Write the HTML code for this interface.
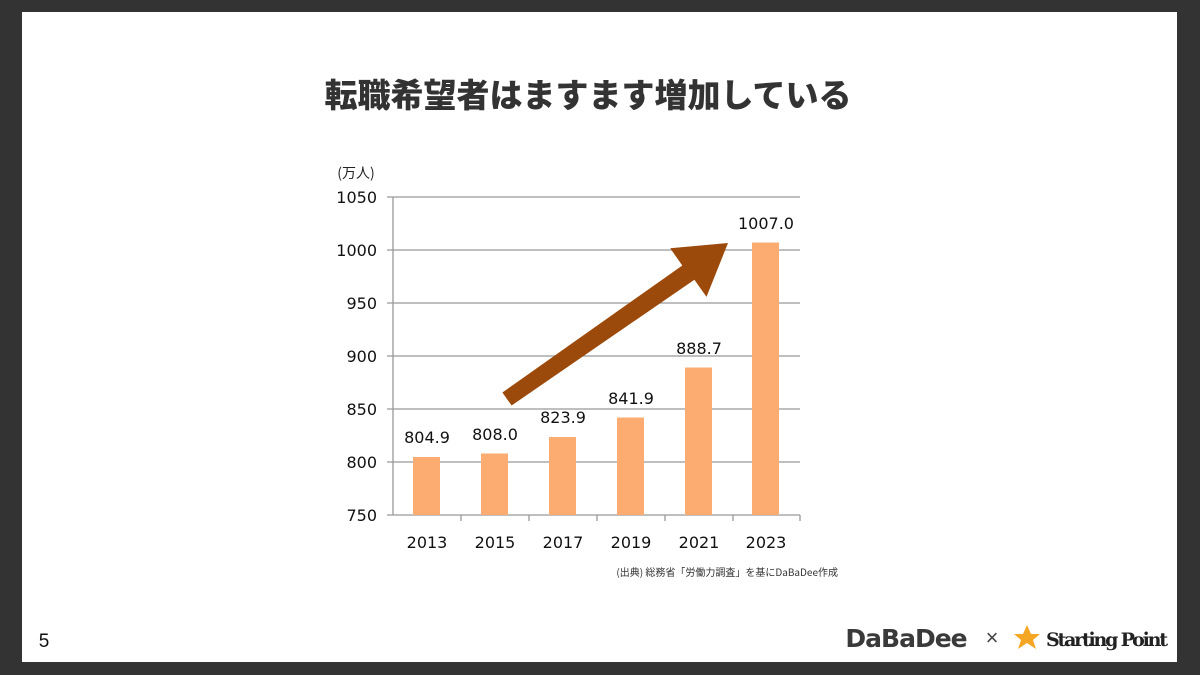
<!DOCTYPE html>
<html><head><meta charset="utf-8"><style>
body{margin:0;width:1200px;height:675px;background:#333;overflow:hidden;font-family:"Liberation Sans","Noto Sans CJK JP",sans-serif}
.slide{position:absolute;left:22px;top:12px;width:1155px;height:650px;background:#fff}
</style></head><body>
<div class="slide"></div>
<svg width="1200" height="675" style="position:absolute;left:0;top:0" font-family="Liberation Sans, Noto Sans CJK JP, sans-serif">
<text x="588" y="107" text-anchor="middle" font-size="33" font-weight="900" fill="#333" font-family="Noto Sans CJK JP, sans-serif">転職希望者はますます増加している</text>
<text x="356" y="178" text-anchor="middle" font-size="14" fill="#222" font-family="Noto Sans CJK JP, sans-serif">(万人)</text>
<g stroke="#999" stroke-width="1.3">
<line x1="387" y1="197" x2="800" y2="197"/><line x1="387" y1="250" x2="800" y2="250"/><line x1="387" y1="303" x2="800" y2="303"/><line x1="387" y1="356" x2="800" y2="356"/><line x1="387" y1="409" x2="800" y2="409"/><line x1="387" y1="462" x2="800" y2="462"/><line x1="387" y1="515" x2="800" y2="515"/>
<line x1="393" y1="197" x2="393" y2="515"/>
<line x1="461" y1="515" x2="461" y2="521"/><line x1="529" y1="515" x2="529" y2="521"/><line x1="597" y1="515" x2="597" y2="521"/><line x1="665" y1="515" x2="665" y2="521"/><line x1="733" y1="515" x2="733" y2="521"/><line x1="800" y1="515" x2="800" y2="521"/>
</g>
<g font-size="16" fill="#111" text-anchor="end" font-family="DejaVu Sans, sans-serif">
<text x="377" y="203">1050</text><text x="377" y="256">1000</text><text x="377" y="309">950</text><text x="377" y="362">900</text><text x="377" y="415">850</text><text x="377" y="468">800</text><text x="377" y="521">750</text>
</g>
<g fill="#FCAC71">
<rect x="413" y="457" width="27" height="58"/><rect x="481" y="453.5" width="27" height="61.5"/><rect x="549" y="437" width="27" height="78"/><rect x="617" y="417.5" width="27" height="97.5"/><rect x="685" y="367.5" width="27" height="147.5"/><rect x="752" y="242.5" width="27" height="272.5"/>
</g>
<g font-size="16" fill="#111" text-anchor="middle" font-family="DejaVu Sans, sans-serif">
<text x="427" y="443">804.9</text><text x="495" y="440">808.0</text><text x="563" y="423">823.9</text><text x="631" y="404">841.9</text><text x="699" y="354">888.7</text><text x="766" y="229">1007.0</text>
<text x="427" y="548">2013</text><text x="495" y="548">2015</text><text x="563" y="548">2017</text><text x="631" y="548">2019</text><text x="699" y="548">2021</text><text x="766" y="548">2023</text>
</g>
<polygon fill="#9C4A0B" points="502.4,392.5 682.3,265.5 670.2,248.3 728,243 706.5,296.9 694.4,279.7 511.6,405.5"/>
<text x="838" y="576" text-anchor="end" font-size="10" fill="#333" font-family="Noto Sans CJK JP, sans-serif">(出典) 総務省「労働力調査」を基にDaBaDee作成</text>
<text x="44" y="647" text-anchor="middle" font-size="19" fill="#111">5</text>
<text x="906" y="647" text-anchor="middle" font-size="25" font-weight="bold" fill="#3a3a3a" font-family="DejaVu Sans, sans-serif" letter-spacing="-1">DaBaDee</text>
<text x="992" y="645" text-anchor="middle" font-size="22" fill="#444">×</text>
<polygon fill="#F5A623" points="1027,625 1031,634 1040,634 1033,640 1036,649 1027,643 1018,649 1021,640 1014,634 1023,634"/>
<text x="1046" y="646" font-size="19" font-weight="bold" fill="#222" font-family="DejaVu Serif, serif" textLength="122">Starting Point</text>
</svg>
</body></html>
